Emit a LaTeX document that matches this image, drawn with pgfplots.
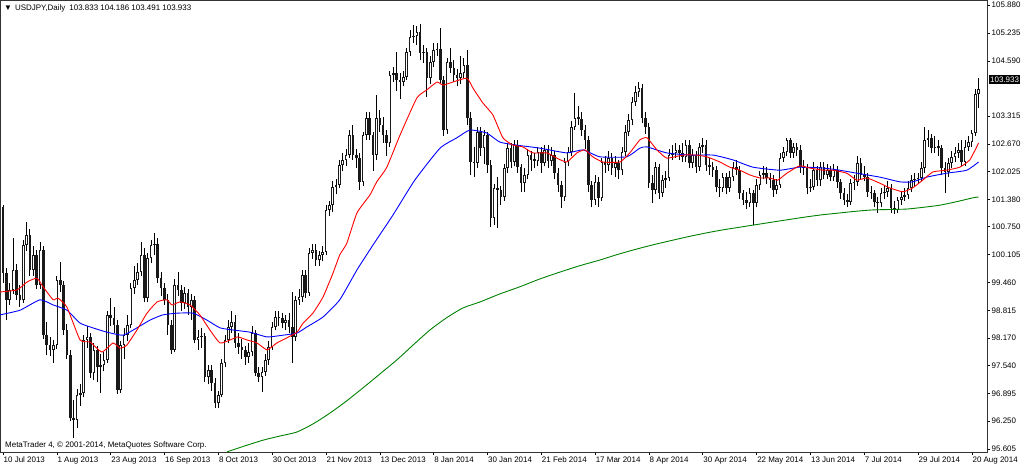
\documentclass[border=0pt]{standalone}
\usepackage{fontspec}
\setmainfont{Liberation Sans}
\usepackage{pgfplots}
\usepackage{pgfplotstable}
\pgfplotsset{compat=1.18}

% USDJPY daily bars, x = bar index from 10 Jul 2013
\pgfplotstableread{
x o h l c
0 101.21 101.25 99.45 99.68
1 99.68 99.80 98.60 99.06
2 99.06 99.45 98.95 99.29
3 99.29 100.49 99.20 99.75
4 99.75 99.88 99.05 99.17
5 99.17 99.40 98.90 99.06
6 99.06 100.45 98.98 100.33
7 100.33 100.86 100.20 100.56
8 100.56 100.70 99.60 99.75
9 99.75 100.30 99.62 100.10
10 100.10 100.22 99.30 99.40
11 99.40 100.40 99.32 100.21
12 100.21 100.30 98.15 98.24
13 98.24 98.55 97.78 98.01
14 98.01 98.20 97.75 97.90
15 97.90 98.12 97.60 98.01
16 98.01 99.60 97.92 99.52
17 99.52 99.93 99.25 99.40
18 99.40 99.50 98.25 98.36
19 98.36 98.50 97.70 97.78
20 97.78 97.90 96.25 96.32
21 96.32 96.75 95.85 96.28
22 96.28 97.00 96.10 96.86
23 96.86 97.10 96.60 96.90
24 96.90 98.25 96.80 98.13
25 98.13 98.45 97.95 98.20
26 98.20 98.30 97.25 97.36
27 97.36 98.05 97.20 97.90
28 97.90 98.00 97.15 97.50
29 97.50 97.80 96.90 97.55
30 97.55 97.85 97.40 97.67
31 97.67 98.80 97.60 98.71
32 98.71 99.10 98.45 98.64
33 98.64 98.90 98.30 98.48
34 98.48 98.60 96.88 96.97
35 96.97 98.10 96.90 98.01
36 98.01 98.40 97.70 98.24
37 98.24 98.70 98.10 98.48
38 98.48 99.45 98.40 99.33
39 99.33 99.85 99.20 99.52
40 99.52 99.90 99.40 99.70
41 99.70 100.40 99.60 100.10
42 100.10 100.25 99.00 99.10
43 99.10 100.15 99.00 100.03
44 100.03 100.45 99.90 100.33
45 100.33 100.61 100.10 100.35
46 100.35 100.50 99.45 99.56
47 99.56 99.70 99.15 99.33
48 99.33 99.45 98.95 99.06
49 99.06 99.20 98.25 98.48
50 98.48 98.60 97.80 97.90
51 97.90 99.55 97.85 99.40
52 99.40 99.70 99.15 99.29
53 99.29 99.40 98.80 98.99
54 98.99 99.35 98.85 99.22
55 99.22 99.30 98.70 98.89
56 98.89 99.20 98.60 99.06
57 99.06 99.15 98.05 98.13
58 98.13 98.35 97.90 98.20
59 98.20 98.40 97.95 98.22
60 98.22 98.30 97.15 97.27
61 97.27 97.55 97.10 97.43
62 97.43 97.55 96.95 97.13
63 97.13 97.25 96.55 96.67
64 96.67 96.95 96.56 96.86
65 96.86 97.70 96.80 97.60
66 97.60 98.25 97.50 98.13
67 98.13 98.60 98.05 98.43
68 98.43 98.80 98.30 98.55
69 98.55 98.70 97.95 98.06
70 98.06 98.30 97.80 97.97
71 97.97 98.15 97.70 97.90
72 97.90 98.00 97.55 97.74
73 97.74 98.05 97.60 97.85
74 97.85 98.45 97.75 98.29
75 98.29 98.35 97.30 97.36
76 97.36 97.50 97.15 97.27
77 97.27 97.50 96.93 97.39
78 97.39 97.80 97.30 97.67
79 97.67 98.10 97.55 97.97
80 97.97 98.55 97.90 98.43
81 98.43 98.80 98.35 98.66
82 98.66 98.80 98.45 98.64
83 98.64 98.75 98.40 98.52
84 98.52 98.70 98.35 98.59
85 98.59 98.75 98.30 98.43
86 98.43 99.25 97.60 98.20
87 98.20 99.15 98.10 99.06
88 99.06 99.30 98.95 99.12
89 99.12 99.75 99.00 99.63
90 99.63 99.75 99.10 99.22
91 99.22 100.25 99.15 100.14
92 100.14 100.35 100.00 100.21
93 100.21 100.35 99.85 99.98
94 99.98 100.20 99.85 100.10
95 100.10 100.30 99.95 100.17
96 100.17 101.25 100.10 101.14
97 101.14 101.35 101.00 101.25
98 101.25 101.80 101.10 101.67
99 101.67 101.85 101.50 101.72
100 101.72 102.30 101.65 102.18
101 102.18 102.45 102.05 102.30
102 102.30 102.55 102.15 102.41
103 102.41 103.00 102.35 102.87
104 102.87 103.10 102.30 102.41
105 102.41 102.55 102.10 102.34
106 102.34 102.45 101.60 101.79
107 101.79 102.95 101.70 102.87
108 102.87 103.40 102.75 103.27
109 103.27 103.40 102.75 102.87
110 102.87 102.95 102.05 102.41
111 102.41 103.80 102.30 103.27
112 103.27 103.45 102.95 103.11
113 103.11 103.30 102.70 102.87
114 102.87 103.00 102.40 102.69
115 102.69 104.35 102.60 104.26
116 104.26 104.45 104.10 104.31
117 104.31 104.80 103.90 104.15
118 104.15 104.30 103.70 104.10
119 104.10 104.35 104.00 104.22
120 104.22 104.90 104.15 104.80
121 104.80 105.30 104.70 105.14
122 105.14 105.42 105.00 105.17
123 105.17 105.40 104.95 105.26
124 105.26 105.44 104.60 104.77
125 104.77 104.95 104.55 104.80
126 104.80 104.90 103.75 104.19
127 104.19 104.70 104.05 104.56
128 104.56 105.00 104.45 104.84
129 104.84 105.00 104.70 104.86
130 104.86 105.35 104.05 104.15
131 104.15 104.25 102.85 102.99
132 102.99 104.65 102.90 104.56
133 104.56 104.90 104.30 104.43
134 104.43 104.60 104.10 104.26
135 104.26 104.40 104.00 104.19
136 104.19 104.70 104.05 104.31
137 104.31 104.65 104.20 104.50
138 104.50 104.85 103.10 103.27
139 103.27 103.40 101.95 102.25
140 102.25 102.60 101.90 102.23
141 102.23 103.05 102.10 102.94
142 102.94 103.05 102.40 102.57
143 102.57 103.00 102.20 102.87
144 102.87 102.95 102.00 102.18
145 102.18 102.30 100.74 100.95
146 100.95 101.75 100.80 101.65
147 101.65 101.90 100.72 101.60
148 101.60 101.70 101.25 101.44
149 101.44 102.20 101.35 102.11
150 102.11 102.70 102.00 102.57
151 102.57 102.70 102.10 102.25
152 102.25 102.75 102.15 102.64
153 102.64 102.75 102.00 102.13
154 102.13 102.20 101.55 101.76
155 101.76 102.10 101.55 101.95
156 101.95 102.55 101.85 102.41
157 102.41 102.50 102.05 102.30
158 102.30 102.45 102.10 102.28
159 102.28 102.60 102.15 102.48
160 102.48 102.60 102.00 102.23
161 102.23 102.65 102.15 102.53
162 102.53 102.65 102.10 102.27
163 102.27 102.60 102.15 102.41
164 102.41 102.50 101.85 101.99
165 101.99 102.10 101.55 101.72
166 101.72 101.80 101.18 101.44
167 101.44 102.35 101.35 102.25
168 102.25 102.60 102.15 102.48
169 102.48 103.20 102.40 103.06
170 103.06 103.85 103.00 103.27
171 103.27 103.55 103.10 103.25
172 103.25 103.40 102.85 102.99
173 102.99 103.10 102.55 102.76
174 102.76 102.85 101.55 101.72
175 101.72 101.80 101.20 101.37
176 101.37 101.95 101.25 101.79
177 101.79 101.90 101.20 101.42
178 101.42 102.35 101.35 102.25
179 102.25 102.40 102.00 102.18
180 102.18 102.50 102.05 102.34
181 102.34 102.45 101.95 102.11
182 102.11 102.40 101.90 102.23
183 102.23 102.30 101.85 102.06
184 102.06 102.60 101.95 102.48
185 102.48 103.10 102.40 102.94
186 102.94 103.35 102.85 103.22
187 103.22 103.75 103.10 103.64
188 103.64 104.00 103.55 103.87
189 103.87 104.10 103.75 103.96
190 103.96 104.05 103.15 103.27
191 103.27 103.40 102.90 103.06
192 103.06 103.15 101.65 101.76
193 101.76 101.95 101.30 101.60
194 101.60 102.25 101.50 102.13
195 102.13 102.20 101.40 101.53
196 101.53 101.95 101.45 101.83
197 101.83 102.05 101.65 101.88
198 101.88 102.55 101.80 102.41
199 102.41 102.65 102.30 102.46
200 102.46 102.70 102.35 102.53
201 102.53 102.65 102.30 102.46
202 102.46 102.70 102.25 102.37
203 102.37 102.75 102.25 102.64
204 102.64 102.75 102.10 102.23
205 102.23 102.55 102.10 102.41
206 102.41 102.50 102.00 102.13
207 102.13 102.70 102.05 102.60
208 102.60 102.80 102.45 102.64
209 102.64 102.75 102.05 102.18
210 102.18 102.35 101.95 102.13
211 102.13 102.25 101.90 102.06
212 102.06 102.15 101.55 101.67
213 101.67 101.85 101.45 101.65
214 101.65 102.00 101.55 101.90
215 101.90 102.00 101.50 101.65
216 101.65 102.05 101.55 101.90
217 101.90 102.25 101.80 102.13
218 102.13 102.30 101.95 102.06
219 102.06 102.15 101.40 101.53
220 101.53 101.60 101.25 101.37
221 101.37 101.55 101.15 101.30
222 101.30 101.65 101.20 101.53
223 101.53 101.60 100.79 101.30
224 101.30 101.85 101.20 101.72
225 101.72 102.05 101.60 101.95
226 101.95 102.15 101.85 101.99
227 101.99 102.13 101.75 101.88
228 101.88 102.00 101.65 101.83
229 101.83 101.95 101.45 101.60
230 101.60 101.85 101.50 101.72
231 101.72 102.45 101.65 102.34
232 102.34 102.60 102.25 102.48
233 102.48 102.80 102.40 102.76
234 102.76 102.80 102.35 102.46
235 102.46 102.70 102.35 102.60
236 102.60 102.70 102.40 102.53
237 102.53 102.65 102.00 102.13
238 102.13 102.30 101.95 102.11
239 102.11 102.20 101.50 101.65
240 101.65 101.85 101.55 101.67
241 101.67 102.25 101.60 102.06
242 102.06 102.15 101.70 101.83
243 101.83 102.25 101.70 102.13
244 102.13 102.25 101.85 101.95
245 101.95 102.20 101.85 102.06
246 102.06 102.15 101.80 101.90
247 101.90 102.20 101.80 102.06
248 102.06 102.15 101.65 101.79
249 101.79 101.85 101.40 101.53
250 101.53 101.65 101.25 101.37
251 101.37 101.50 101.20 101.32
252 101.32 101.85 101.25 101.76
253 101.76 101.95 101.60 101.79
254 101.79 102.40 101.70 102.23
255 102.23 102.35 101.85 101.95
256 101.95 102.15 101.80 101.90
257 101.90 102.00 101.45 101.56
258 101.56 101.70 101.40 101.53
259 101.53 101.60 101.20 101.32
260 101.32 101.45 101.07 101.30
261 101.30 101.65 101.20 101.53
262 101.53 101.70 101.40 101.56
263 101.56 101.80 101.45 101.65
264 101.65 101.75 101.07 101.18
265 101.18 101.35 101.05 101.14
266 101.14 101.45 101.08 101.37
267 101.37 101.55 101.25 101.44
268 101.44 101.65 101.35 101.49
269 101.49 101.80 101.40 101.65
270 101.65 101.95 101.55 101.83
271 101.83 102.00 101.70 101.85
272 101.85 102.00 101.75 101.88
273 101.88 102.25 101.80 102.11
274 102.11 103.05 102.00 102.76
275 102.76 103.00 102.60 102.81
276 102.81 102.90 102.45 102.57
277 102.57 102.85 102.45 102.60
278 102.60 102.75 102.40 102.58
279 102.58 102.65 101.95 102.11
280 102.11 102.25 101.53 102.02
281 102.02 102.35 101.90 102.23
282 102.23 102.50 102.10 102.37
283 102.37 102.60 102.25 102.46
284 102.46 102.70 102.35 102.53
285 102.53 102.75 102.15 102.25
286 102.25 102.75 102.15 102.60
287 102.60 102.85 102.50 102.71
288 102.71 103.00 102.60 102.92
289 102.92 103.95 102.85 103.83
290 103.833 104.186 103.491 103.933
}\candles

% moving averages
\pgfplotstableread{
x p
-0.9 99.24
4.2 99.29
7.1 99.47
10.1 99.56
11.9 99.36
14.9 99.06
16.3 99.10
19.0 98.89
22.9 98.13
25.9 98.08
29.4 97.85
32.7 98.06
34.8 97.94
36.8 98.01
39.8 98.36
42.8 98.75
45.8 99.01
48.7 99.06
50.2 98.94
52.6 99.01
55.6 98.94
58.5 98.71
61.5 98.36
64.5 98.06
67.5 98.13
69.8 98.20
72.5 98.13
75.5 98.06
78.5 97.90
81.4 98.06
84.4 98.18
87.4 98.31
89.2 98.52
92.1 98.75
95.1 99.12
98.1 99.68
100.1 100.10
102.2 100.37
105.2 101.07
109.1 101.49
111.1 101.79
114.1 102.13
118.0 102.87
123.0 103.73
126.0 103.92
129.0 104.10
130.8 104.03
133.7 104.10
137.9 104.19
139.7 103.96
142.6 103.62
145.6 103.34
148.6 102.81
151.6 102.64
154.5 102.60
157.5 102.46
161.7 102.46
164.6 102.34
167.6 102.25
170.6 102.46
173.0 102.53
175.3 102.37
178.3 102.25
183.4 102.25
186.3 102.46
189.3 102.76
191.4 102.81
194.4 102.53
197.3 102.34
202.1 102.41
206.2 102.41
209.2 102.37
213.1 102.25
216.0 102.13
219.0 102.06
222.0 101.95
225.0 101.88
227.9 101.88
230.3 101.83
233.0 101.99
236.8 102.16
239.8 102.11
243.7 102.06
246.7 102.06
250.8 101.99
253.8 101.83
256.8 101.88
260.6 101.76
263.6 101.65
267.5 101.56
270.4 101.65
273.4 101.83
276.4 102.02
280.5 102.06
284.4 102.13
287.4 102.30
290.0 102.69
}\redma

\pgfplotstableread{
x p
-0.9 98.71
5.1 98.82
11.0 99.06
14.9 98.94
19.0 98.82
22.9 98.52
26.7 98.41
30.9 98.31
35.7 98.24
39.8 98.41
43.7 98.59
47.5 98.71
51.7 98.75
56.5 98.75
60.6 98.59
64.5 98.41
68.4 98.36
73.4 98.31
78.5 98.20
83.2 98.24
87.4 98.29
90.3 98.43
95.1 98.66
100.1 99.06
105.2 99.75
110.0 100.33
115.9 101.02
122.4 101.83
129.9 102.57
134.9 102.81
138.8 102.99
143.8 102.92
147.7 102.71
152.7 102.64
159.6 102.57
167.6 102.46
172.4 102.53
177.4 102.37
185.4 102.37
189.3 102.57
191.4 102.60
197.3 102.46
204.2 102.41
211.0 102.41
216.9 102.30
222.9 102.13
230.9 102.06
236.8 102.13
243.7 102.11
248.7 102.06
253.8 101.99
260.6 101.90
266.6 101.79
270.4 101.79
274.6 101.90
280.5 101.99
286.5 102.06
290.0 102.25
}\bluema

\pgfplotstableread{
x p
66.6 95.54
72.0 95.68
77.3 95.81
82.0 95.90
87.4 96.00
92.0 96.18
96.3 96.39
101.5 96.68
107.0 97.02
112.0 97.34
117.1 97.67
122.0 98.02
126.9 98.36
131.8 98.64
136.7 98.87
141.8 99.01
147.5 99.19
153.6 99.36
159.5 99.54
165.5 99.70
171.5 99.85
177.4 99.98
182.3 100.10
187.2 100.21
193.1 100.33
199.1 100.44
204.2 100.53
209.2 100.61
214.1 100.68
219.0 100.74
223.9 100.80
228.8 100.86
233.8 100.92
238.9 100.98
243.8 101.03
248.7 101.07
253.6 101.11
258.5 101.14
263.5 101.15
268.6 101.16
273.5 101.20
278.5 101.25
283.4 101.33
288.3 101.42
290.0 101.44
}\greenma

\pgfplotsset{
  candle/.style={mark=none, draw=none, forget plot,
    error bars/.cd, y dir=plus, y explicit, error mark=none,
    error bar style={solid, line cap=butt, #1}},
}

\begin{document}
\begin{tikzpicture}
\path[use as bounding box] (0,0) rectangle (1024bp,467bp);
\begin{axis}[
  at={(0,15bp)}, anchor=south west,
  scale only axis, width=987bp, height=452bp,
  xmin=-0.9, xmax=292.5, ymin=95.536, ymax=106.0,
  clip=false,
  font=\fontsize{8}{9.6}\selectfont,
  axis line style={black!80, line width=0.7bp},
  tick align=outside, major tick length=3bp,
  every tick/.style={black, line width=0.6bp},
  xtick pos=left, ytick pos=right, yticklabel pos=right,
  xtick={0,16,...,288},
  xticklabels={10 Jul 2013,1 Aug 2013,23 Aug 2013,16 Sep 2013,8 Oct 2013,30 Oct 2013,21 Nov 2013,13 Dec 2013,8 Jan 2014,30 Jan 2014,21 Feb 2014,17 Mar 2014,8 Apr 2014,30 Apr 2014,22 May 2014,13 Jun 2014,7 Jul 2014,29 Jul 2014,20 Aug 2014},
  xticklabel style={anchor=north west, inner sep=0pt, xshift=0.5bp, yshift=-2bp},
  ytick={95.605,96.250,96.895,97.540,98.170,98.815,99.460,100.105,100.750,101.380,102.025,102.670,103.315,104.590,105.235,105.880},
  yticklabels={95.605,96.250,96.895,97.540,98.170,98.815,99.460,100.105,100.750,101.380,102.025,102.670,103.315,104.590,105.235,105.880},
  yticklabel style={anchor=west, inner sep=0pt, xshift=1.5bp},
]
% wicks
\addplot[candle={draw=black, line width=0.9bp}]
  table[x=x, y=l, y error plus expr={\thisrow{h}-\thisrow{l}}] {\candles};
% bodies
\addplot[candle={draw=black!90, line width=2.6bp}]
  table[x=x, y expr={min(\thisrow{o},\thisrow{c})},
        y error plus expr={max(abs(\thisrow{c}-\thisrow{o}),0.03)}] {\candles};
% hollow part of rising bars
\addplot[candle={draw=white, line width=0.9bp}]
  table[x=x, y expr={\thisrow{o}+0.025},
        y error plus expr={max(\thisrow{c}-\thisrow{o}-0.05,0)}] {\candles};

\addplot[green!50!black, line width=0.9bp, smooth, tension=0.4] table[x=x, y=p] {\greenma};
\addplot[blue, line width=0.9bp, smooth, tension=0.3] table[x=x, y=p] {\bluema};
\addplot[red, line width=0.9bp, smooth, tension=0.3] table[x=x, y=p] {\redma};

\node[anchor=west, inner sep=0pt] at ([xshift=4bp, yshift=-8bp]axis description cs:0,1)
  {{\fontsize{8}{8}\selectfont▼}\hspace{3bp}USDJPY,Daily\hspace{4bp}103.833 104.186 103.491 103.933};
\node[anchor=west, inner sep=0pt] at ([xshift=5bp, yshift=7bp]axis description cs:0,0)
  {MetaTrader 4, © 2001-2014, MetaQuotes Software Corp.};
\node[anchor=west, fill=black, text=white, inner sep=1bp, minimum height=9bp]
  at ([xshift=2bp]axis cs:292.5,104.148) {103.933};
\end{axis}
\end{tikzpicture}
\end{document}
